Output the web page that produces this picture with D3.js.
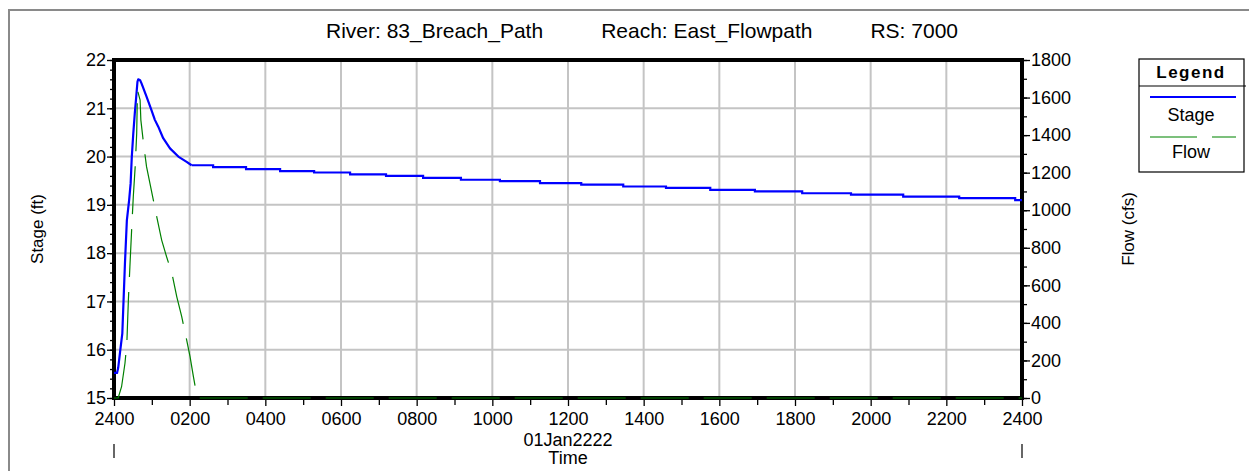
<!DOCTYPE html>
<html>
<head>
<meta charset="utf-8">
<script src="https://cdn.jsdelivr.net/npm/d3@7"></script>
<style>
  html, body { margin: 0; padding: 0; background: #fff; }
  svg { display: block; font-family: "Liberation Sans", Arial, sans-serif; }
</style>
</head>
<body>
<svg id="chart" width="1249" height="471"></svg>
<script>
// Time axis: hours since 2400 (midnight) on 01Jan2222
const timeTickHours = [0, 2, 4, 6, 8, 10, 12, 14, 16, 18, 20, 22, 24];
const timeTickLabels = ["2400", "0200", "0400", "0600", "0800", "1000", "1200",
                        "1400", "1600", "1800", "2000", "2200", "2400"];
const stageTicks = [15, 16, 17, 18, 19, 20, 21, 22];
const flowTicks = [0, 200, 400, 600, 800, 1000, 1200, 1400, 1600, 1800];
const titleParts = ["River: 83_Breach_Path", "Reach: East_Flowpath", "RS: 7000"];

// Stage hydrograph (ft): rising limb, peak and recession
const stageRiseHours = [0.00, 0.08, 0.11, 0.16, 0.22, 0.25, 0.29, 0.34, 0.40, 0.44, 0.47,
                        0.51, 0.55, 0.58, 0.62, 0.64, 0.69, 0.73, 0.86, 0.99, 1.08, 1.17,
                        1.30, 1.48, 1.70, 1.92, 2.05];
const stageRiseValues = [15.52, 15.52, 15.62, 15.95, 16.34, 16.97, 17.80, 18.68, 19.10, 19.45, 19.99,
                         20.48, 20.90, 21.17, 21.55, 21.60, 21.58, 21.51, 21.24, 20.96, 20.76, 20.62,
                         20.38, 20.17, 20.00, 19.89, 19.82];
// Stage tail (ft): values reported in steps
const stageStepHours = [2.05, 2.62, 3.49, 4.39, 5.29, 6.24, 7.19, 8.17, 9.17, 10.20, 11.26,
                        12.35, 13.46, 14.59, 15.76, 16.94, 18.19, 19.48, 20.86, 22.34, 23.82, 24.00];
const stageStepValues = [19.82, 19.78, 19.74, 19.70, 19.67, 19.63, 19.60, 19.56, 19.52, 19.49, 19.45,
                         19.42, 19.38, 19.35, 19.31, 19.28, 19.24, 19.21, 19.17, 19.14, 19.10, 19.10];

// Flow hydrograph (cfs)
const flowHours = [0.00, 0.11, 0.20, 0.29, 0.34, 0.38, 0.42, 0.47, 0.51, 0.56, 0.60, 0.62,
                   0.69, 0.71, 0.78, 0.86, 0.95, 1.04, 1.13, 1.26, 1.39, 1.53, 1.66, 1.79,
                   1.92, 2.01, 2.10, 2.20, 24.00];
const flowValues = [0, 0, 60, 185, 293, 522, 699, 912, 1072, 1232, 1410, 1640,
                    1587, 1480, 1356, 1232, 1143, 1054, 965, 841, 752, 664, 539, 433,
                    309, 220, 113, 0, 0];

const svg = d3.select("#chart");
const plot = { left: 114, right: 1022, top: 60, bottom: 398 };

const x = d3.scaleLinear().domain([0, 24]).range([plot.left, plot.right]);
const yStage = d3.scaleLinear().domain([15, 22]).range([plot.bottom, plot.top]);
const yFlow = d3.scaleLinear().domain([0, 1800]).range([plot.bottom, plot.top]);

// Outer frame
svg.append("path")
  .attr("d", "M9,471 V10 H1249")
  .attr("fill", "none").attr("stroke", "#8a8a8a").attr("stroke-width", 2);

// Title: three parts with equal gaps between them
const titleStart = 326, titleEnd = 958;
const titles = svg.selectAll("text.title").data(titleParts).join("text")
  .attr("class", "title").attr("y", 38).attr("font-size", 21).text(d => d);
const widths = titles.nodes().map(n => n.getComputedTextLength());
const gap = (titleEnd - titleStart - d3.sum(widths)) / (titleParts.length - 1);
let cursor = titleStart;
titles.each(function (d, i) {
  d3.select(this).attr("x", cursor);
  cursor += widths[i] + gap;
});

// Grid
const grid = svg.append("g").attr("stroke", "#c4c4c4").attr("stroke-width", 2);
grid.selectAll("line.v").data(timeTickHours.slice(1, -1)).join("line")
  .attr("x1", d => x(d)).attr("x2", d => x(d))
  .attr("y1", plot.top).attr("y2", plot.bottom);
grid.selectAll("line.h").data(stageTicks.slice(1, -1)).join("line")
  .attr("x1", plot.left).attr("x2", plot.right)
  .attr("y1", d => yStage(d)).attr("y2", d => yStage(d));

// Axes
function styleAxis(g) {
  g.select(".domain").remove();
  g.selectAll("line").attr("stroke", "#000").attr("stroke-width", 1.3);
  g.selectAll("text").attr("fill", "#000").attr("font-size", 18)
    .attr("font-family", "'Liberation Sans', Arial, sans-serif");
}

// Left (stage) axis
svg.append("g").attr("transform", `translate(${plot.left},0)`)
  .call(d3.axisLeft(yStage).tickValues(d3.range(15, 22.01, 0.2)).tickSize(4).tickFormat(""))
  .call(styleAxis);
svg.append("g").attr("transform", `translate(${plot.left},0)`)
  .call(d3.axisLeft(yStage).tickValues(stageTicks).tickSize(7).tickPadding(1).tickFormat(d3.format("d")))
  .call(styleAxis);

// Right (flow) axis
svg.append("g").attr("transform", `translate(${plot.right},0)`)
  .call(d3.axisRight(yFlow).tickValues(d3.range(0, 1801, 100)).tickSize(5).tickFormat(""))
  .call(styleAxis);
svg.append("g").attr("transform", `translate(${plot.right},0)`)
  .call(d3.axisRight(yFlow).tickValues(flowTicks).tickSize(8).tickPadding(1).tickFormat(d3.format("d")))
  .call(styleAxis);

// Bottom (time) axis
svg.append("g").attr("transform", `translate(0,${plot.bottom})`)
  .call(d3.axisBottom(x).tickValues(d3.range(1, 24, 2)).tickSize(7).tickFormat(""))
  .call(styleAxis);
svg.append("g").attr("transform", `translate(0,${plot.bottom})`)
  .call(d3.axisBottom(x).tickValues(timeTickHours).tickSize(8).tickPadding(6)
        .tickFormat((d, i) => timeTickLabels[i]))
  .call(styleAxis);

// Day boundary markers
svg.selectAll("line.day").data([0, 24]).join("line")
  .attr("x1", d => x(d)).attr("x2", d => x(d))
  .attr("y1", 444).attr("y2", 458)
  .attr("stroke", "#000").attr("stroke-width", 1.2);

svg.append("text").attr("x", x(12)).attr("y", 446).attr("text-anchor", "middle")
  .attr("font-size", 18).text("01Jan2222");
svg.append("text").attr("x", x(12)).attr("y", 464).attr("text-anchor", "middle")
  .attr("font-size", 18).text("Time");

// Axis titles
svg.append("text")
  .attr("transform", "translate(43,229) rotate(-90)")
  .attr("text-anchor", "middle").attr("font-size", 17).text("Stage (ft)");
svg.append("text")
  .attr("transform", "translate(1134,229) rotate(-90)")
  .attr("text-anchor", "middle").attr("font-size", 17).text("Flow (cfs)");

// Plot frame
svg.append("rect")
  .attr("x", plot.left).attr("y", plot.top)
  .attr("width", plot.right - plot.left).attr("height", plot.bottom - plot.top)
  .attr("fill", "none").attr("stroke", "#000").attr("stroke-width", 4);

// Stage line
const stageRise = stageRiseHours.map((h, i) => [h, stageRiseValues[i]]);
const stageSteps = stageStepHours.map((h, i) => [h, stageStepValues[i]]);
const stageLinear = d3.line().x(d => x(d[0])).y(d => yStage(d[1]));
const stageStep = d3.line().x(d => x(d[0])).y(d => yStage(d[1])).curve(d3.curveStepAfter);
svg.append("path").attr("d", stageLinear(stageRise))
  .attr("fill", "none").attr("stroke", "#0000ff").attr("stroke-width", 2.2)
  .attr("stroke-linejoin", "round");
svg.append("path").attr("d", stageStep(stageSteps))
  .attr("fill", "none").attr("stroke", "#0000ff").attr("stroke-width", 2.2);

// Flow line
const flowPts = flowHours.map((h, i) => [h, flowValues[i]]);
svg.append("path")
  .attr("d", d3.line().x(d => x(d[0])).y(d => yFlow(d[1]))(flowPts))
  .attr("fill", "none").attr("stroke", "#008000").attr("stroke-width", 1.2)
  .attr("stroke-dasharray", "48,15");

// Legend
const lg = svg.append("g");
lg.append("rect").attr("x", 1139).attr("y", 59).attr("width", 105).attr("height", 113)
  .attr("fill", "#fff").attr("stroke", "#000").attr("stroke-width", 1.2);
lg.append("line").attr("x1", 1139).attr("x2", 1246).attr("y1", 86).attr("y2", 86)
  .attr("stroke", "#000").attr("stroke-width", 1.2);
lg.append("text").attr("x", 1191).attr("y", 78).attr("text-anchor", "middle")
  .attr("font-size", 17).attr("font-weight", "bold").attr("letter-spacing", 1.5).text("Legend");
lg.append("line").attr("x1", 1150).attr("x2", 1236).attr("y1", 97).attr("y2", 97)
  .attr("stroke", "#0000ff").attr("stroke-width", 2);
lg.append("text").attr("x", 1191).attr("y", 121).attr("text-anchor", "middle")
  .attr("font-size", 18).text("Stage");
lg.append("line").attr("x1", 1150).attr("x2", 1236).attr("y1", 137).attr("y2", 137)
  .attr("stroke", "#7cc07c").attr("stroke-width", 2).attr("stroke-dasharray", "47,15");
lg.append("text").attr("x", 1191).attr("y", 158).attr("text-anchor", "middle")
  .attr("font-size", 18).text("Flow");
</script>
</body>
</html>
